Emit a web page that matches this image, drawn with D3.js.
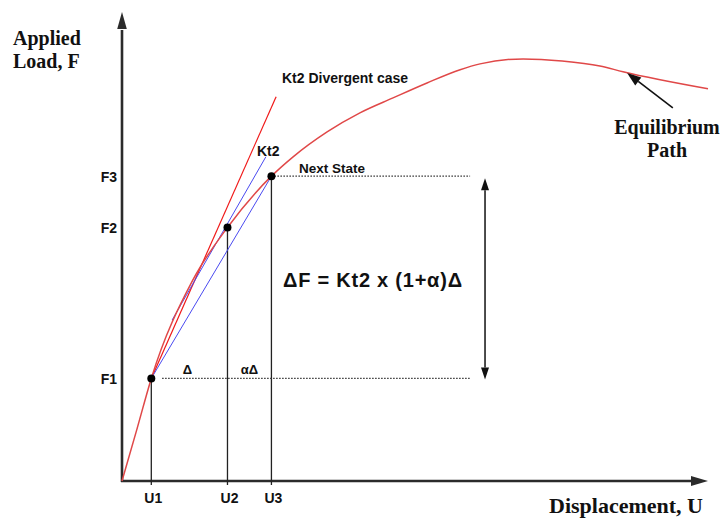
<!DOCTYPE html>
<html><head><meta charset="utf-8">
<script src="https://cdn.jsdelivr.net/npm/d3@7"></script>
<style>
html,body{margin:0;padding:0;background:#fff;}
svg{display:block;}
</style></head><body>
<svg id="chart" width="724" height="522"></svg>
<script>
// Equilibrium path: displacement U against applied load F
const pathU = [0, 0.51, 1.0, 2.42, 3.6, 5.1, 5.84, 7.0, 8.12, 9.25, 10.41, 11.54, 12.22, 13.69, 15.02, 16.31, 17.10, 20.0];
const pathF = [0, 1.77, 3.5, 6.86, 8.65, 10.4, 11.06, 11.91, 12.56, 13.07, 13.58, 14.03, 14.23, 14.40, 14.33, 14.16, 13.96, 13.38];

// Solution states on the path
const stateLabelsU = ["U1", "U2", "U3"];
const stateLabelsF = ["F1", "F2", "F3"];
const stateU = [1.0, 3.6, 5.1];
const stateF = [3.5, 8.65, 10.4];

// Tangent lines: divergent case and Kt2
const divergentU = [1.0, 5.26];
const divergentF = [3.5, 13.11];
const kt2U = [1.71, 4.91];
const kt2F = [5.49, 11.06];

// Load increment guides
const guideEndU = 11.88;
const incrementU = 12.39;

const svg = d3.select("#chart");
const x = d3.scaleLinear().domain([0, 20]).range([122, 708]);
const y = d3.scaleLinear().domain([0, 16]).range([481, 12]);

const sans = "'Liberation Sans', Arial, sans-serif";
const serif = "'Liberation Serif', 'Times New Roman', serif";

function arrowHead(tx, ty, fx, fy, len, hw, color) {
  const a = Math.atan2(ty - fy, tx - fx);
  const bx = tx - len * Math.cos(a), by = ty - len * Math.sin(a);
  const px = -Math.sin(a) * hw, py = Math.cos(a) * hw;
  svg.append("path")
    .attr("d", `M${tx},${ty}L${bx + px},${by + py}L${bx - px},${by - py}Z`)
    .attr("fill", color);
  return [bx, by];
}

// Axes with arrow heads
const axisColor = "#2b2b2b";
{
  const [bx, by] = arrowHead(x(0), y(16), x(0), y(0), 17, 4.8, axisColor);
  svg.append("line").attr("x1", x(0)).attr("y1", y(0) + 1).attr("x2", bx).attr("y2", by + 1)
    .attr("stroke", axisColor).attr("stroke-width", 2.6);
}
{
  const [bx, by] = arrowHead(x(20), y(0), x(0), y(0), 17, 5, axisColor);
  svg.append("line").attr("x1", x(0) - 1).attr("y1", y(0)).attr("x2", bx + 1).attr("y2", by)
    .attr("stroke", axisColor).attr("stroke-width", 2.6);
}

// Vertical drop lines from each state to the U axis
svg.selectAll("line.drop").data(stateU).join("line").attr("class", "drop")
  .attr("x1", d => x(d)).attr("x2", d => x(d))
  .attr("y1", (d, i) => y(stateF[i])).attr("y2", y(0) + 4)
  .attr("stroke", "#222").attr("stroke-width", 1.3);

// Dotted load levels
svg.append("line")
  .attr("x1", x(1.37)).attr("x2", x(guideEndU)).attr("y1", y(stateF[0])).attr("y2", y(stateF[0]))
  .attr("stroke", "#333").attr("stroke-width", 1.4).attr("stroke-dasharray", "1.5,1.5");
svg.append("line")
  .attr("x1", x(stateU[2])).attr("x2", x(guideEndU)).attr("y1", y(stateF[2])).attr("y2", y(stateF[2]))
  .attr("stroke", "#333").attr("stroke-width", 1.4).attr("stroke-dasharray", "1.5,1.5");

// Tangent lines
svg.append("line")
  .attr("x1", x(divergentU[0])).attr("y1", y(divergentF[0]))
  .attr("x2", x(divergentU[1])).attr("y2", y(divergentF[1]))
  .attr("stroke", "#f01818").attr("stroke-width", 1.2);
svg.append("line")
  .attr("x1", x(kt2U[0])).attr("y1", y(kt2F[0]))
  .attr("x2", x(kt2U[1])).attr("y2", y(kt2F[1]))
  .attr("stroke", "#4a4af0").attr("stroke-width", 1);
svg.append("line")
  .attr("x1", x(stateU[0])).attr("y1", y(stateF[0]))
  .attr("x2", x(stateU[2])).attr("y2", y(stateF[2]))
  .attr("stroke", "#4a4af0").attr("stroke-width", 1);

// Equilibrium path
const pathData = pathU.map((u, i) => [u, pathF[i]]);
svg.append("path")
  .datum(pathData)
  .attr("d", d3.line().x(d => x(d[0])).y(d => y(d[1])).curve(d3.curveMonotoneX))
  .attr("fill", "none").attr("stroke", "#e04848").attr("stroke-width", 1.5);

// State points
svg.selectAll("circle.state").data(stateU).join("circle").attr("class", "state")
  .attr("cx", d => x(d)).attr("cy", (d, i) => y(stateF[i])).attr("r", 4)
  .attr("fill", "#000");

// Load increment double arrow
{
  const xa = x(incrementU), yt = y(stateF[2]) + 2, yb = y(stateF[0]) + 1;
  const [, b1] = arrowHead(xa, yt, xa, yb, 12, 4, "#111");
  const [, b2] = arrowHead(xa, yb, xa, yt, 12, 4, "#111");
  svg.append("line").attr("x1", xa).attr("x2", xa).attr("y1", b1).attr("y2", b2)
    .attr("stroke", "#111").attr("stroke-width", 1.5);
}

// Pointer to the equilibrium path
{
  const [bx, by] = arrowHead(x(17.24), y(13.92), x(18.8), y(12.73), 14, 5, "#111");
  svg.append("line").attr("x1", x(18.8)).attr("y1", y(12.73)).attr("x2", bx).attr("y2", by)
    .attr("stroke", "#111").attr("stroke-width", 1.6);
}

// Tick labels
svg.selectAll("text.ulab").data(stateLabelsU).join("text").attr("class", "ulab")
  .attr("x", (d, i) => x(stateU[i]) + 2).attr("y", 503)
  .attr("text-anchor", "middle").attr("font-family", sans).attr("font-weight", "bold")
  .attr("font-size", 14).attr("fill", "#111").text(d => d);
svg.selectAll("text.flab").data(stateLabelsF).join("text").attr("class", "flab")
  .attr("x", 117).attr("y", (d, i) => y(stateF[i]) + 6)
  .attr("text-anchor", "end").attr("font-family", sans).attr("font-weight", "bold")
  .attr("font-size", 14).attr("fill", "#111").text(d => d);

// Increment labels
svg.append("text").attr("x", (x(stateU[0]) + x(stateU[1])) / 2 - 2).attr("y", 374)
  .attr("text-anchor", "middle").attr("font-family", sans).attr("font-weight", "bold")
  .attr("font-size", 13).attr("fill", "#111").text("Δ");
svg.append("text").attr("x", (x(stateU[1]) + x(stateU[2])) / 2).attr("y", 374)
  .attr("text-anchor", "middle").attr("font-family", sans).attr("font-weight", "bold")
  .attr("font-size", 13).attr("fill", "#111").text("αΔ");

// Annotations
svg.append("text").attr("x", 282).attr("y", 83)
  .attr("font-family", sans).attr("font-weight", "bold").attr("font-size", 14).attr("fill", "#111")
  .text("Kt2 Divergent case");
svg.append("text").attr("x", 257).attr("y", 156)
  .attr("font-family", sans).attr("font-weight", "bold").attr("font-size", 14).attr("fill", "#111")
  .text("Kt2");
svg.append("text").attr("x", 299).attr("y", 173)
  .attr("font-family", sans).attr("font-weight", "bold").attr("font-size", 13.5).attr("fill", "#111")
  .text("Next State");
svg.append("text").attr("x", 283).attr("y", 287)
  .attr("font-family", sans).attr("font-weight", "bold").attr("font-size", 20).attr("fill", "#111")
  .attr("textLength", 179).attr("lengthAdjust", "spacing")
  .text("ΔF = Kt2 x (1+α)Δ");

// Axis titles
const ylab = svg.append("text").attr("font-family", serif).attr("font-weight", "bold")
  .attr("font-size", 20).attr("fill", "#111");
ylab.append("tspan").attr("x", 13).attr("y", 45).text("Applied");
ylab.append("tspan").attr("x", 13).attr("y", 68).text("Load, F");
svg.append("text").attr("x", 703).attr("y", 513).attr("text-anchor", "end")
  .attr("font-family", serif).attr("font-weight", "bold").attr("font-size", 22).attr("fill", "#111")
  .text("Displacement, U");
const eq = svg.append("text").attr("text-anchor", "middle").attr("font-family", serif)
  .attr("font-weight", "bold").attr("font-size", 20).attr("fill", "#111");
eq.append("tspan").attr("x", 667).attr("y", 134).text("Equilibrium");
eq.append("tspan").attr("x", 667).attr("y", 157).text("Path");
</script>
</body></html>
